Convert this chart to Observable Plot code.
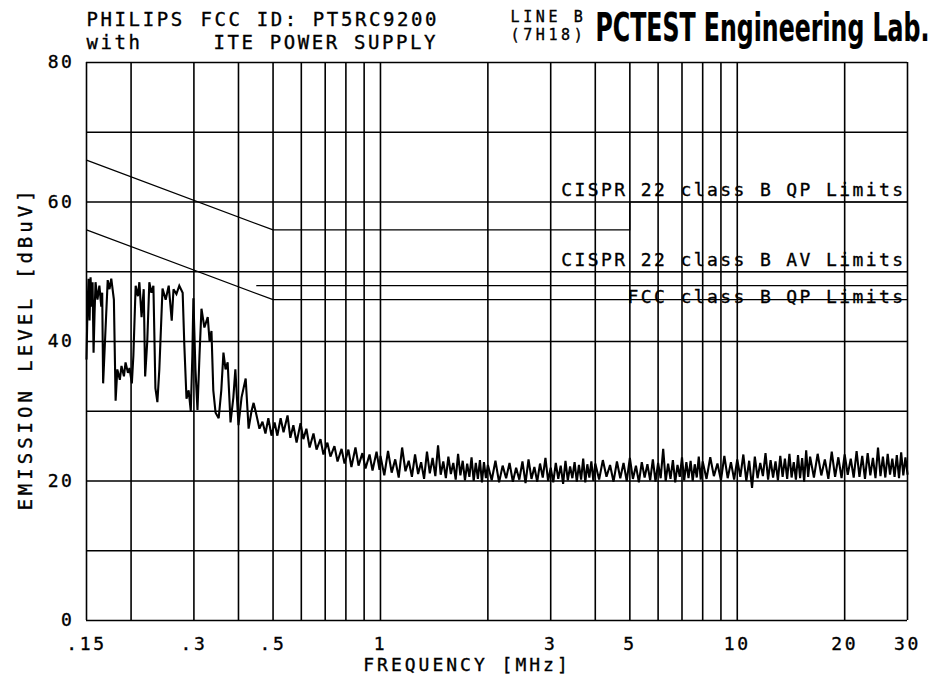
<!DOCTYPE html>
<html><head><meta charset="utf-8">
<script src="https://cdn.jsdelivr.net/npm/d3@7"></script>
<script src="https://cdn.jsdelivr.net/npm/@observablehq/plot@0.6"></script>
<style>
body{margin:0;background:#fff;}
#chart svg text{letter-spacing:2.6px;}
</style></head><body><div id="chart"></div>
<script>
// ---- grid / ticks ----
const gridFreqs = [0.15,0.2,0.3,0.4,0.5,0.6,0.7,0.8,0.9,1,2,3,4,5,6,7,8,9,10,20,30];
const gridLevels = [0,10,20,30,40,50,60,70,80];
const xTickValues = [0.15,0.3,0.5,0.7,1,3,5,7,10,20,30];
const xTickLabels = [".15",".3",".5",".7","1","3","5","7","10","20","30"];
const yTickValues = [0,20,40,60,80];

// ---- limit lines ----
const qpFreq = [0.15,0.5,5,5,30];
const qpLevel = [66,56,56,60,60];
const avFreq = [0.15,0.5,30];
const avLevel = [56,46,46];
const avHighFreq = [5,30];
const avHighLevel = [50,50];
const fccFreq = [0.45,30];
const fccLevel = [48,48];
const limitLabels = ["CISPR 22 class B QP Limits","CISPR 22 class B AV Limits","FCC class B QP Limits"];

// ---- header texts ----
const headTitle1 = "PHILIPS";
const headTitle2 = "FCC ID: PT5RC9200";
const headSub1 = "with";
const headSub2 = "ITE POWER SUPPLY";
const headLine = "LINE B";
const headCode = "(7H18)";
const headLab = "PCTEST Engineering Lab.";
const xLabel = "FREQUENCY [MHz]";
const yLabel = "EMISSION LEVEL [dBuV]";

// ---- measured trace, 0.15 - 1 MHz ----
const traceFreqLow = [.150,.151,.152,.153,.154,.155,.156,.157,.158,.159,.161,.163,.165,.166,.167,.169,.172,.174,.176,.179,
.181,.183,.186,.188,.191,.193,.196,.198,.201,.203,.206,.209,.211,.214,.217,.219,.222,.225,.228,.231,
.234,.237,.240,.245,.250,.255,.260,.263,.268,.273,.279,.282,.286,.290,.294,.297,.299,.303,.307,.311,
.315,.321,.328,.332,.336,.340,.345,.352,.358,.363,.368,.373,.380,.387,.392,.400,.408,.419,.427,.435,
.441,.449,.458,.467,.476,.485,.495,.505,.514,.525,.535,.549,.559,.570,.582,.597,.608,.620,.633,.649,
.662,.679,.692,.710,.724,.743,.758,.778,.793,.813,.829,.851,.868,.890,.908,.932,.950,.975,.994];
const traceLevelLow = [37.5,45,49,43,49.2,45,48.5,38.4,44,48.5,46,48,45,47,34,40,48.8,47.5,49,46,
31.5,36,34.5,36.5,35,37,35.5,36.2,34,38,48,46.5,48.5,43.5,47.5,35,40,48.5,47,48,
33.3,31.3,36,47.6,46,48,43,47.5,46.8,48,47,39.5,31.8,33,30,38,46.2,36,30.2,38,
44.7,42,43.5,40,41.5,33,29.8,29,33,38.4,36,37,28.4,32,36,28,32,34.7,27.5,30,
31.2,29.5,27.5,28.5,26.8,29,26.5,28.4,26.5,29,27,29.4,26.2,28,25.5,28.3,26,27.5,24.8,26.8,
24.5,26,23.8,25.5,23.5,25,22.8,24.6,22.5,24.5,22,24.8,22.2,24,21.8,23.8,21.5,24.2,21.6];

// ---- measured trace, 1 - 30 MHz ----
const traceFreqHigh = [
1.000,1.025,1.050,1.075,1.100,1.125,1.150,1.175,1.200,1.225,1.250,1.275,1.300,1.325,1.350,1.375,1.400,1.425,1.450,1.475,
1.500,1.525,1.550,1.575,1.600,1.625,1.650,1.675,1.700,1.725,1.750,1.775,1.800,1.825,1.850,1.875,1.900,1.925,1.950,1.975,
2.00,2.05,2.10,2.15,2.20,2.25,2.30,2.35,2.40,2.45,2.50,2.55,2.60,2.65,2.70,2.75,2.80,2.85,2.90,2.95,
3.00,3.05,3.10,3.15,3.20,3.25,3.30,3.35,3.40,3.45,3.50,3.55,3.60,3.65,3.70,3.75,3.80,3.85,3.90,3.95,
4.0,4.1,4.2,4.3,4.4,4.5,4.6,4.7,4.8,4.9,5.0,5.1,5.2,5.3,5.4,5.5,5.6,5.7,5.8,5.9,
6.0,6.1,6.2,6.3,6.4,6.5,6.6,6.7,6.8,6.9,7.0,7.1,7.2,7.3,7.4,7.5,7.6,7.7,7.8,7.9,
8.0,8.2,8.4,8.6,8.8,9.0,9.2,9.4,9.6,9.8,10.0,10.2,10.4,10.6,10.8,11.0,11.2,11.4,11.6,11.8,
12.0,12.2,12.4,12.6,12.8,13.0,13.2,13.4,13.6,13.8,14.0,14.2,14.4,14.6,14.8,15.0,15.2,15.4,15.6,15.8,
16.0,16.4,16.8,17.2,17.6,18.0,18.4,18.8,19.2,19.6,20.0,20.4,20.8,21.2,21.6,22.0,22.4,22.8,23.2,23.6,
24.0,24.4,24.8,25.2,25.6,26.0,26.4,26.8,27.2,27.6,28.0,28.4,28.8,29.2,29.6,30.0];
const traceLevelHigh = [
23.6,20.8,24.3,21.2,23.1,20.5,24.8,21.4,22.9,20.6,23.8,21.0,22.7,20.3,24.2,21.1,23.3,20.7,25.1,20.9,
22.8,20.4,23.5,21.0,22.6,20.2,23.9,20.8,22.9,20.1,22.5,20.6,23.4,20.0,22.6,20.3,23.0,19.8,22.7,20.4,
22.3,20.1,22.9,19.8,22.2,20.4,22.6,19.9,21.9,20.2,22.8,19.7,23.1,20.3,22.0,19.9,22.5,20.5,23.3,20.0,
21.9,19.8,22.6,20.3,22.2,19.6,22.9,20.1,22.1,20.4,22.7,19.9,22.3,20.2,23.2,19.8,22.4,20.5,22.8,20.0,
22.5,20.2,23.0,20.6,22.3,19.9,22.8,20.4,22.6,20.0,23.3,20.3,22.2,19.8,22.7,20.5,22.4,20.1,23.1,19.9,
22.6,20.4,24.6,20.0,22.5,20.3,23.0,19.8,22.3,20.6,23.4,20.1,22.7,20.4,22.9,20.0,22.4,20.5,23.5,20.2,
22.8,20.3,23.4,20.7,22.5,20.1,23.6,20.4,22.7,20.2,23.1,20.6,23.8,20.0,22.9,19.0,23.5,20.4,22.6,20.7,
24.0,20.2,23.0,20.5,22.8,20.1,23.6,20.6,23.2,20.3,23.9,20.5,22.7,20.2,23.7,20.4,23.3,19.9,24.4,20.6,
23.5,20.5,23.9,20.8,23.1,20.3,24.2,20.6,23.4,20.4,23.8,20.9,23.2,20.5,24.3,20.6,23.6,20.3,24.0,20.8,
23.3,20.4,24.8,20.7,23.5,20.5,23.9,20.9,23.2,20.6,23.7,20.4,24.1,20.8,23.4,21.0];

// ---- tables built from the arrays ----
const zip = (fs, vs) => fs.map((f, i) => ({f, v: vs[i]}));
const trace = zip(traceFreqLow.concat(traceFreqHigh), traceLevelLow.concat(traceLevelHigh));
const qp = zip(qpFreq, qpLevel);
const av = zip(avFreq, avLevel);
const avHigh = zip(avHighFreq, avHighLevel);
const fcc = zip(fccFreq, fccLevel);
const xLabelMap = new Map(xTickValues.map((d, i) => [d, xTickLabels[i]]));

const ink = "#000";
const mono = "'DejaVu Sans Mono', 'Liberation Mono', monospace";
const stampFont = "'Liberation Sans Narrow', 'DejaVu Sans Condensed', 'DejaVu Sans', sans-serif";

const chart = Plot.plot({
  width: 938, height: 685,
  marginTop: 62, marginLeft: 86, marginRight: 31, marginBottom: 65,
  x: {type: "log", domain: [0.15, 30]},
  y: {domain: [0, 80]},
  style: {fontFamily: mono, fontSize: "19px", color: ink, background: "#fff", overflow: "visible"},
  marks: [
    Plot.ruleX(gridFreqs, {stroke: ink, strokeWidth: 1.6, strokeOpacity: 1}),
    Plot.ruleY(gridLevels, {stroke: ink, strokeWidth: 1.6, strokeOpacity: 1}),
    Plot.line(qp, {x: "f", y: "v", stroke: ink, strokeWidth: 1.2}),
    Plot.line(av, {x: "f", y: "v", stroke: ink, strokeWidth: 1.2}),
    Plot.line(avHigh, {x: "f", y: "v", stroke: ink, strokeWidth: 1.2}),
    Plot.line(fcc, {x: "f", y: "v", stroke: ink, strokeWidth: 1.2}),
    Plot.line(trace, {x: "f", y: "v", stroke: ink, strokeWidth: 2.1, strokeLinejoin: "miter", strokeMiterlimit: 3}),
    Plot.axisX({ticks: xTickValues, tickFormat: d => xLabelMap.get(d), tickSize: 0, tickPadding: 17, label: null, fontSize: 18}),
    Plot.axisY({ticks: yTickValues, tickSize: 0, tickPadding: 12, label: null, fontSize: 18}),
    // limit labels
    Plot.text([limitLabels[0]], {text: d => d, x: 30, y: qpLevel[4], textAnchor: "end", lineAnchor: "bottom", dx: -2, dy: -6, fill: ink, fontSize: 18}),
    Plot.text([limitLabels[1]], {text: d => d, x: 30, y: avHighLevel[1], textAnchor: "end", lineAnchor: "bottom", dx: -2, dy: -6, fill: ink, fontSize: 18}),
    Plot.text([limitLabels[2]], {text: d => d, x: 30, y: fccLevel[1], textAnchor: "end", lineAnchor: "bottom", dx: -2, dy: 17, fill: ink, fontSize: 18}),
    // header
    Plot.text([headTitle1], {text: d => d, frameAnchor: "top-left", textAnchor: "start", lineAnchor: "bottom", dx: 0, dy: -37, fill: ink}),
    Plot.text([headTitle2], {text: d => d, frameAnchor: "top-left", textAnchor: "start", lineAnchor: "bottom", dx: 114, dy: -37, fill: ink}),
    Plot.text([headSub1], {text: d => d, frameAnchor: "top-left", textAnchor: "start", lineAnchor: "bottom", dx: 0, dy: -14, fill: ink}),
    Plot.text([headSub2], {text: d => d, frameAnchor: "top-left", textAnchor: "start", lineAnchor: "bottom", dx: 127, dy: -14, fill: ink}),
    Plot.text([headLine], {text: d => d, frameAnchor: "top-left", textAnchor: "start", lineAnchor: "bottom", dx: 424, dy: -41, fill: ink, fontSize: 15}),
    Plot.text([headCode], {text: d => d, frameAnchor: "top-left", textAnchor: "start", lineAnchor: "bottom", dx: 424, dy: -23, fill: ink, fontSize: 15}),
    Plot.text([headLab], {text: d => d, frameAnchor: "top-left", textAnchor: "start", lineAnchor: "bottom", dx: 509, dy: -22, fill: ink, fontSize: 39, fontWeight: "bold", fontFamily: stampFont}),
    // axis titles
    Plot.text([xLabel], {text: d => d, frameAnchor: "bottom", textAnchor: "middle", lineAnchor: "bottom", dx: -30, dy: 50, fill: ink, fontSize: 18}),
    Plot.text([yLabel], {text: d => d, frameAnchor: "left", textAnchor: "middle", lineAnchor: "middle", rotate: -90, dx: -61, dy: 7, fill: ink, fontSize: 19})
  ]
});
document.getElementById("chart").appendChild(chart);

const svg = d3.select(chart);
const byText = t => svg.selectAll("text").filter(function() { return this.textContent === t; });
// squeeze the tall lab stamp horizontally to its printed width
const stamp = byText(headLab).style("letter-spacing", "0px");
const stampNode = stamp.node();
if (stampNode) {
  const natural = stampNode.getComputedTextLength();
  if (natural > 0) {
    const sx = 334 / natural;
    const t = stampNode.getAttribute("transform") || "";
    const xa = stampNode.getAttribute("x");
    if (xa != null && xa !== "") stampNode.setAttribute("x", (+xa / sx).toFixed(2));
    stampNode.setAttribute("transform", (t + ` scale(${sx.toFixed(4)},1)`).trim());
  }
}
byText(yLabel).style("letter-spacing", "4px");
limitLabels.forEach(t => byText(t).style("letter-spacing", "2.4px"));
byText(headLine).style("letter-spacing", "3.6px");
byText(headCode).style("letter-spacing", "3.6px");
byText(xLabel).style("letter-spacing", "3px");
svg.selectAll("text").style("stroke", "#000").style("stroke-width", "0.35px");
byText(headLab).style("stroke-width", "0.2px");
</script></body></html>
